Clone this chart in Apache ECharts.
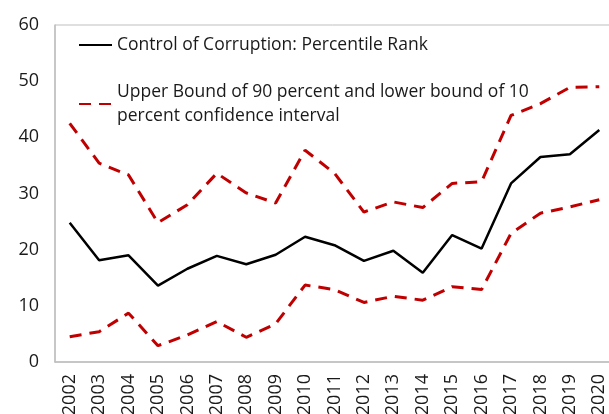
<!DOCTYPE html>
<html>
<head>
<meta charset="utf-8">
<script src="https://cdn.jsdelivr.net/npm/echarts@6/dist/echarts.min.js"></script>
<style>
  html, body { margin: 0; padding: 0; background: #fff; }
  #main { width: 609px; height: 414px; }
</style>
</head>
<body>
<div id="main"></div>
<script>
// data
var years = ['2002','2003','2004','2005','2006','2007','2008','2009','2010','2011',
             '2012','2013','2014','2015','2016','2017','2018','2019','2020'];
var rank  = [24.8, 18.1, 19.0, 13.6, 16.6, 18.9, 17.4, 19.1, 22.3, 20.8,
             18.0, 19.8, 15.9, 22.6, 20.2, 31.8, 36.5, 37.0, 41.3];
var upper = [42.5, 35.4, 33.3, 24.8, 28.0, 33.6, 30.1, 28.3, 37.7, 33.6,
             26.7, 28.5, 27.5, 31.8, 32.1, 43.9, 46.0, 48.9, 49.0];
var lower = [4.5, 5.4, 8.7, 2.9, 4.8, 7.2, 4.4, 6.8, 13.7, 12.9,
             10.6, 11.7, 11.0, 13.4, 12.9, 22.9, 26.5, 27.6, 28.9];
var yTicks = [0, 10, 20, 30, 40, 50, 60];

var nameRank = 'Control of Corruption: Percentile Rank';
var nameBand = 'Upper Bound of 90 percent and lower bound of 10\npercent confidence interval';
var font = '"Open Sans", "Noto Sans", sans-serif';
var red = '#c00000';

var myChart = echarts.init(document.getElementById('main'));
myChart.setOption({
    animation: false,
    textStyle: { fontFamily: font },
    grid: {
        left: 55, top: 25, width: 559, bottom: 52,
        outerBoundsMode: 'none',
        show: true, borderColor: '#bfbfbf', borderWidth: 1
    },
    legend: {
        data: [nameRank, nameBand],
        orient: 'vertical',
        left: 73, top: 31,
        itemWidth: 33, itemHeight: 12, itemGap: 29,
        itemStyle: { color: 'transparent', borderWidth: 0 },
        textStyle: {
            fontFamily: font, fontSize: 17.5, color: '#1a1a1a', lineHeight: 24,
            verticalAlign: 'top', padding: [-12, 0, 0, 0]
        }
    },
    xAxis: {
        type: 'category',
        data: years,
        boundaryGap: true,
        axisLine: { lineStyle: { color: '#bfbfbf', width: 1.5 } },
        axisTick: { inside: true, length: 7, lineStyle: { color: '#bfbfbf' } },
        axisLabel: { rotate: 90, fontSize: 18, color: '#1a1a1a', fontFamily: font, margin: 12, interval: 0 }
    },
    yAxis: {
        type: 'value',
        min: yTicks[0], max: yTicks[yTicks.length - 1], interval: 10,
        splitLine: { show: false },
        axisLine: { show: true, lineStyle: { color: '#bfbfbf', width: 1.5 } },
        axisTick: { show: false },
        axisLabel: { fontSize: 18, color: '#1a1a1a', fontFamily: font, margin: 16 }
    },
    series: [
        {
            name: nameRank, type: 'line', data: rank,
            symbol: 'none',
            lineStyle: { color: '#000', width: 2.5 },
            itemStyle: { color: '#000' }
        },
        {
            name: nameBand, type: 'line', data: upper,
            symbol: 'none',
            lineStyle: { color: red, width: 3, type: [12, 8] },
            itemStyle: { color: red }
        },
        {
            name: 'lower', type: 'line', data: lower,
            symbol: 'none',
            lineStyle: { color: red, width: 3, type: [12, 8] },
            itemStyle: { color: red }
        }
    ]
});
</script>
</body>
</html>
